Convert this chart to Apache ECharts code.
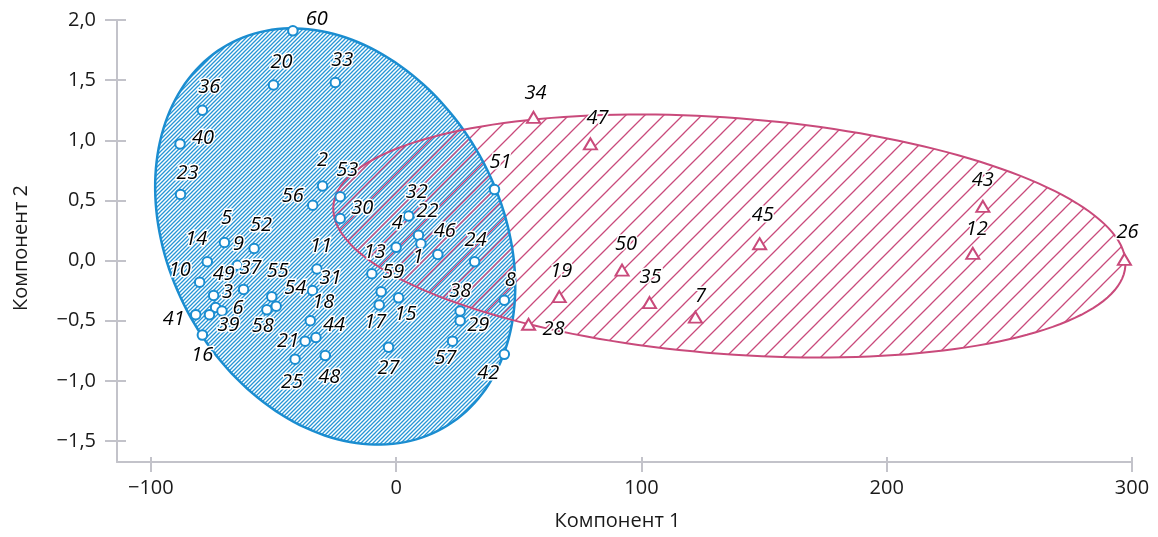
<!DOCTYPE html>
<html>
<head>
<meta charset="utf-8">
<script src="https://cdn.jsdelivr.net/npm/echarts@6/dist/echarts.min.js"></script>
<style>
  html, body { margin: 0; padding: 0; background: #ffffff; }
  #chart { width: 1158px; height: 537px; }
</style>
</head>
<body>
<div id="chart"></div>
<script>
// ---- Group 1 (circles) ----
const group1Ids = [60, 20, 33, 36, 40, 23, 2, 53, 56, 30, 51, 5, 9, 52, 14, 10, 49, 3, 6, 41, 39, 16, 37, 55, 54, 58,
  11, 31, 18, 44, 21, 25, 48, 32, 22, 1, 4, 46, 13, 59, 17, 15, 24, 38, 29, 8, 57, 27, 42];
const group1X = [-42.1, -50.0, -24.8, -79.0, -88.1, -87.9, -30.0, -22.8, -34.0, -22.8, 40.1, -70.0, -64.7, -57.9, -77.0, -80.1, -74.4, -73.6, -71.0, -81.7, -76.1, -79.0, -62.2, -50.7, -48.9, -52.7,
  -32.3, -34.1, -35.0, -32.7, -37.1, -41.2, -28.9, 5.1, 9.1, 10.1, 0.0, 17.0, -9.9, -6.1, -6.9, 1.0, 32.0, 26.1, 26.1, 44.1, 23.0, -3.1, 44.1];
const group1Y = [1.91, 1.46, 1.48, 1.25, 0.97, 0.55, 0.62, 0.53, 0.46, 0.35, 0.59, 0.15, -0.04, 0.10, -0.01, -0.18, -0.29, -0.39, -0.42, -0.45, -0.45, -0.62, -0.24, -0.30, -0.38, -0.41,
  -0.07, -0.25, -0.50, -0.64, -0.67, -0.82, -0.79, 0.37, 0.21, 0.14, 0.11, 0.05, -0.11, -0.26, -0.37, -0.31, -0.01, -0.42, -0.50, -0.33, -0.67, -0.72, -0.78];

// ---- Group 2 (triangles) ----
const group2Ids = [34, 47, 45, 43, 12, 26, 50, 19, 35, 7, 28];
const group2X = [56.0, 79.2, 148.2, 239.2, 235.1, 296.9, 92.1, 66.5, 103.3, 122.0, 54.0];
const group2Y = [1.19, 0.97, 0.14, 0.45, 0.06, 0.01, -0.08, -0.30, -0.35, -0.47, -0.53];

// ---- Group ellipses: centre, first semi-axis vector, second semi-axis vector ----
const ellipse1Centre = [-24.84, 0.200];
const ellipse1AxisU = [43.86, -1.594];
const ellipse1AxisV = [-58.86, -0.674];
const ellipse2Centre = [135.85, 0.204];
const ellipse2AxisU = [161.44, -0.251];
const ellipse2AxisV = [-3.66, -0.979];

// ---- Group tags ----
const groupTags = ['1', '2'];
const groupTagX = [-79.9, 145.5];
const groupTagY = [1.94, 1.475];

// ---- Axis ticks ----
const xTicks = [-100, 0, 100, 200, 300];
const yTicks = [-1.5, -1.0, -0.5, 0.0, 0.5, 1.0, 1.5, 2.0];

// Label offsets (px) from each point's centre
const labelShift = {
  60: [24, -12], 20: [8, -23], 33: [7, -22], 36: [7, -23], 40: [23, -6], 23: [7, -21], 2: [0, -26], 53: [7, -27],
  56: [-20, -9], 30: [22, -10], 51: [6, -27], 5: [2, -24], 9: [1, -21], 52: [7, -23], 14: [-11, -22], 10: [-20, -12],
  49: [10, -21], 3: [12, -15], 6: [16, -3], 41: [-22, 5], 39: [19, 11], 16: [0, 20], 37: [7, -21], 55: [6, -25],
  54: [19, -18], 58: [-4, 16], 11: [4, -23], 31: [18, -12], 18: [13, -18], 44: [18, -12], 21: [-17, 0], 25: [-3, 23],
  48: [4, 22], 32: [8, -24], 22: [9, -24], 1: [-3, 14], 4: [1, -24], 46: [7, -23], 13: [3, -21], 59: [12, -20],
  17: [-4, 17], 15: [7, 16], 24: [1, -21], 38: [0, -20], 29: [18, 5], 8: [6, -20], 57: [-7, 17], 27: [0, 21], 42: [-16, 19],
  34: [2, -24], 47: [7, -26], 45: [3, -28], 43: [0, -26], 12: [4, -24], 26: [3, -27], 50: [4, -26], 19: [2, -25],
  35: [1, -25], 7: [5, -21], 28: [25, 5]
};

const BLUE = '#1b8dd0';
const PINK = '#c94a7b';
const AXIS_GREY = '#c3c3ca';
const FONT = 'Open Sans';

// Diagonal "/" hatch tile
function hatchPattern(color, period, width) {
  const c = document.createElement('canvas');
  c.width = period; c.height = period;
  const ctx = c.getContext('2d');
  ctx.strokeStyle = color;
  ctx.lineWidth = width;
  ctx.lineCap = 'square';
  ctx.beginPath();
  ctx.moveTo(-1, period + 1); ctx.lineTo(period + 1, -1);
  ctx.moveTo(-1, 1); ctx.lineTo(1, -1);
  ctx.moveTo(period - 1, period + 1); ctx.lineTo(period + 1, period - 1);
  ctx.stroke();
  return { image: c, repeat: 'repeat' };
}

function ellipseSeries(name, centre, u, v, style, z) {
  return {
    name: name,
    type: 'custom',
    coordinateSystem: 'cartesian2d',
    silent: true,
    clip: false,
    z: z,
    data: [centre],
    renderItem: function (params, api) {
      const pts = [];
      const n = 180;
      for (let i = 0; i < n; i++) {
        const t = (2 * Math.PI * i) / n;
        pts.push(api.coord([
          centre[0] + u[0] * Math.cos(t) + v[0] * Math.sin(t),
          centre[1] + u[1] * Math.cos(t) + v[1] * Math.sin(t)
        ]));
      }
      return { type: 'polygon', shape: { points: pts }, style: style };
    }
  };
}

function pointData(ids, xs, ys) {
  return ids.map((id, i) => ({
    value: [xs[i], ys[i]],
    name: String(id),
    label: { offset: labelShift[id] || [0, -22] }
  }));
}

const pointLabel = {
  show: true,
  position: 'inside',
  formatter: '{b}',
  fontFamily: FONT,
  fontStyle: 'italic',
  fontSize: 20,
  color: '#000000',
  textBorderColor: '#ffffff',
  textBorderWidth: 3
};

const fmtY = v => v.toFixed(1).replace('.', ',').replace('-', '\u2212');
const fmtX = v => String(v).replace('-', '\u2212');

const X_MIN = -113.8, X_MAX = 300, Y_MIN = -1.675, Y_MAX = 2.0;

function xAxisDef(inside) {
  return {
    type: 'value', position: 'bottom', min: X_MIN, max: X_MAX,
    axisLine: { show: !inside, onZero: false, lineStyle: { color: AXIS_GREY, width: 2 } },
    axisTick: { show: true, inside: inside, length: inside ? 5 : 10, customValues: xTicks, lineStyle: { color: AXIS_GREY, width: 2 } },
    axisLabel: inside ? { show: false } : {
      show: true, customValues: xTicks, formatter: fmtX, margin: 16,
      fontFamily: FONT, fontSize: 20, color: '#1a1a1a'
    },
    splitLine: { show: false },
    name: inside ? '' : 'Компонент 1',
    nameLocation: 'middle', nameGap: 49,
    nameTextStyle: { fontFamily: FONT, fontSize: 20, color: '#1a1a1a', padding: [0, 14, 0, 0] }
  };
}

function yAxisDef(inside) {
  return {
    type: 'value', position: 'left', min: Y_MIN, max: Y_MAX,
    axisLine: { show: !inside, onZero: false, lineStyle: { color: AXIS_GREY, width: 2 } },
    axisTick: { show: true, inside: inside, length: inside ? 9 : 12, customValues: yTicks, lineStyle: { color: AXIS_GREY, width: 2 } },
    axisLabel: inside ? { show: false } : {
      show: true, customValues: yTicks, formatter: fmtY, margin: 21,
      fontFamily: FONT, fontSize: 20, color: '#1a1a1a'
    },
    splitLine: { show: false },
    name: inside ? '' : 'Компонент 2',
    nameLocation: 'middle', nameGap: 86,
    nameTextStyle: { fontFamily: FONT, fontSize: 20, color: '#1a1a1a', padding: [0, 14, 0, 0] }
  };
}

const chart = echarts.init(document.getElementById('chart'), null, { renderer: 'canvas' });

chart.setOption({
  animation: false,
  backgroundColor: '#ffffff',
  grid: { left: 117, right: 26, top: 20, bottom: 75 },
  xAxis: [xAxisDef(false), xAxisDef(true)],
  yAxis: [yAxisDef(false), yAxisDef(true)],
  series: [
    ellipseSeries('fill1', ellipse1Centre, ellipse1AxisU, ellipse1AxisV,
      { fill: hatchPattern('#2795d5', 4, 1.3), stroke: 'none' }, 1),
    ellipseSeries('fill2', ellipse2Centre, ellipse2AxisU, ellipse2AxisV,
      { fill: hatchPattern(PINK, 19, 1.3), stroke: 'none' }, 2),
    ellipseSeries('edge1', ellipse1Centre, ellipse1AxisU, ellipse1AxisV,
      { fill: 'none', stroke: BLUE, lineWidth: 2.5 }, 3),
    ellipseSeries('edge2', ellipse2Centre, ellipse2AxisU, ellipse2AxisV,
      { fill: 'none', stroke: PINK, lineWidth: 2 }, 3),
    {
      name: 'Группа 1', type: 'scatter', z: 5,
      symbol: 'circle', symbolSize: 9.5,
      itemStyle: { color: '#ffffff', borderColor: BLUE, borderWidth: 2, opacity: 1 },
      label: pointLabel,
      data: pointData(group1Ids, group1X, group1Y)
    },
    {
      name: 'Группа 2', type: 'scatter', z: 5,
      symbol: 'triangle', symbolSize: [13, 11],
      itemStyle: { color: '#ffffff', borderColor: PINK, borderWidth: 2, opacity: 1 },
      label: pointLabel,
      data: pointData(group2Ids, group2X, group2Y)
    },
    {
      name: 'tags', type: 'scatter', z: 6, symbol: 'none', silent: true,
      label: {
        show: true, position: 'inside', formatter: '{b}',
        fontFamily: FONT, fontWeight: 'bold', fontSize: 21
      },
      data: groupTags.map((t, i) => ({
        value: [groupTagX[i], groupTagY[i]], name: t,
        label: { color: i === 0 ? BLUE : PINK }
      }))
    }
  ]
});
</script>
</body>
</html>
